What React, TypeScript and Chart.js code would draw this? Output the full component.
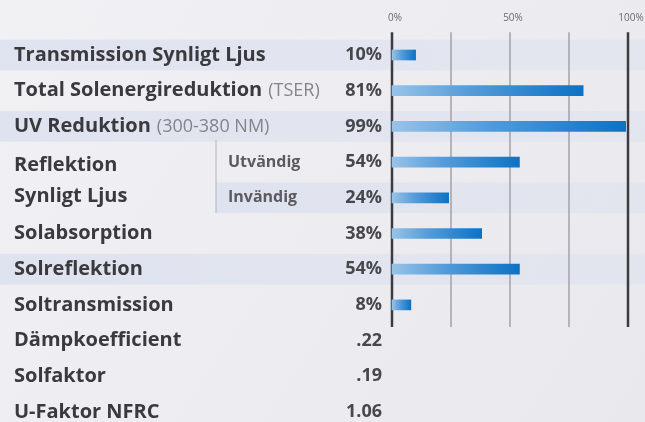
import React, { useEffect, useRef } from "react";
import { Chart, registerables } from "chart.js";

Chart.register(...registerables);

// ---- data ----
const rowNames = [
  "Transmission Synligt Ljus",
  "Total Solenergireduktion",
  "UV Reduktion",
  "Reflektion",
  "Synligt Ljus",
  "Solabsorption",
  "Solreflektion",
  "Soltransmission",
  "Dämpkoefficient",
  "Solfaktor",
  "U-Faktor NFRC",
];
const rowNotes = ["", "(TSER)", "(300-380 NM)", "", "", "", "", "", "", "", ""];
const subLabels = ["", "", "", "Utvändig", "Invändig", "", "", "", "", "", ""];
const percentValues: (number | null)[] = [10, 81, 99, 54, 24, 38, 54, 8, null, null, null];
const otherValues = ["", "", "", "", "", "", "", "", ".22", ".19", "1.06"];
const axisTicks = [0, 50, 100];
const gridValues = [0, 25, 50, 75, 100];
const bandRows = [0, 2, 4, 6];
const groupRows = [3, 4];

const FONT = "'Open Sans', sans-serif";

const panelPlugin = {
  id: "panel",
  beforeDraw(chart: any) {
    const { ctx, width, height, scales } = chart;
    const y = scales.y;
    const step = y.getPixelForValue(1) - y.getPixelForValue(0);
    const sepX = 216;
    ctx.save();
    const bg = ctx.createLinearGradient(0, 0, width, height);
    bg.addColorStop(0, "#f1f0f3");
    bg.addColorStop(1, "#e9e8ec");
    ctx.fillStyle = bg;
    ctx.fillRect(0, 0, width, height);
    bandRows.forEach((r) => {
      const cy = y.getPixelForValue(r);
      const x0 = subLabels[r] ? sepX : 0;
      const g = ctx.createLinearGradient(x0, 0, width, 0);
      g.addColorStop(0, "rgba(216,222,238,0.7)");
      g.addColorStop(1, "rgba(220,226,240,0.5)");
      ctx.fillStyle = g;
      ctx.fillRect(x0, cy - step * 0.43, width - x0, step * 0.86);
    });
    ctx.restore();
  },
  beforeDatasetsDraw(chart: any) {
    const { ctx, scales } = chart;
    const x = scales.x;
    const y = scales.y;
    const step = y.getPixelForValue(1) - y.getPixelForValue(0);
    const top = y.getPixelForValue(0) - step * 0.64;
    const bottom = y.getPixelForValue(7) + step * 0.62;
    ctx.save();
    gridValues.forEach((v) => {
      const px = x.getPixelForValue(v);
      const edge = v === 0 || v === 100;
      ctx.strokeStyle = edge ? "#3c3c40" : "#a2a2a8";
      ctx.lineWidth = edge ? 2.5 : 1.5;
      ctx.beginPath();
      ctx.moveTo(px, top);
      ctx.lineTo(px, bottom);
      ctx.stroke();
    });
    ctx.restore();
  },
  afterDraw(chart: any) {
    const { ctx, scales, chartArea } = chart;
    const y = scales.y;
    const step = y.getPixelForValue(1) - y.getPixelForValue(0);
    const leftX = 14;
    const valueX = chartArea.left - 10;
    const subX = 228;
    const sepX = 216;
    ctx.save();
    ctx.textBaseline = "middle";
    rowNames.forEach((name, i) => {
      const cy = y.getPixelForValue(i);
      let ny = cy;
      if (groupRows.includes(i)) ny = i === groupRows[0] ? cy + 3 : cy - 2;
      ctx.textAlign = "left";
      ctx.font = `bold 20px ${FONT}`;
      ctx.fillStyle = "#3a3a3e";
      ctx.fillText(name, leftX, ny);
      if (rowNotes[i]) {
        const w = ctx.measureText(name).width;
        ctx.font = `18px ${FONT}`;
        ctx.fillStyle = "#84848a";
        ctx.fillText(rowNotes[i], leftX + w + 6, cy);
      }
      if (subLabels[i]) {
        ctx.font = `bold 16px ${FONT}`;
        ctx.fillStyle = "#5a5a60";
        ctx.fillText(subLabels[i], subX, cy);
      }
      const v = percentValues[i];
      const txt = v != null ? `${v}%` : otherValues[i];
      ctx.textAlign = "right";
      ctx.font = `bold 18px ${FONT}`;
      ctx.fillStyle = "#47474c";
      ctx.fillText(txt, valueX, cy);
    });
    const gTop = y.getPixelForValue(groupRows[0]) - step * 0.62;
    const gBot = y.getPixelForValue(groupRows[1]) + step * 0.42;
    ctx.strokeStyle = "#b4b4ba";
    ctx.lineWidth = 1;
    ctx.beginPath();
    ctx.moveTo(sepX, gTop);
    ctx.lineTo(sepX, gBot);
    ctx.stroke();
    ctx.restore();
  },
};

export default function App() {
  const ref = useRef<HTMLCanvasElement | null>(null);
  useEffect(() => {
    if (!ref.current) return;
    const chart = new Chart(ref.current, {
      type: "bar",
      data: {
        labels: rowNames,
        datasets: [
          {
            data: percentValues as any,
            barThickness: 10,
            borderWidth: 0,
            clip: false as any,
            backgroundColor: (c: any) => {
              const ch = c.chart;
              if (!ch.chartArea) return "#1a7acb";
              const xs = ch.scales.x;
              const v = c.raw ?? 0;
              const x0 = xs.getPixelForValue(0);
              const x1 = Math.max(xs.getPixelForValue(v), x0 + 1);
              const g = ch.ctx.createLinearGradient(x0, 0, x1, 0);
              g.addColorStop(0, "#98c3e8");
              g.addColorStop(0.4, "#559cda");
              g.addColorStop(1, "#0c72c4");
              return g;
            },
          },
        ],
      },
      options: {
        indexAxis: "y",
        animation: false,
        responsive: true,
        maintainAspectRatio: false,
        layout: { padding: { left: 392, right: 17, top: 0, bottom: 10 } },
        plugins: { legend: { display: false }, tooltip: { enabled: false } },
        scales: {
          x: {
            type: "linear",
            position: "top",
            min: 0,
            max: 100,
            afterBuildTicks: (s: any) => {
              s.ticks = axisTicks.map((v) => ({ value: v }));
            },
            afterFit: (s: any) => {
              s.height = 55;
              s.paddingLeft = 0;
              s.paddingRight = 0;
            },
            ticks: {
              callback: (v: any) => `${v}%`,
              font: { size: 10, family: FONT },
              color: "#6a6a70",
              padding: 31,
              labelOffset: 3,
              autoSkip: false,
              maxRotation: 0,
            },
            grid: { display: false, drawTicks: false },
            border: { display: false },
          },
          y: {
            type: "category",
            display: false,
            offset: false,
            grid: { display: false },
          },
        },
      },
      plugins: [panelPlugin],
    } as any);
    return () => chart.destroy();
  }, []);
  return (
    <div style={{ position: "fixed", left: 0, top: 0, width: 645, height: 422 }}>
      <canvas ref={ref} />
    </div>
  );
}
